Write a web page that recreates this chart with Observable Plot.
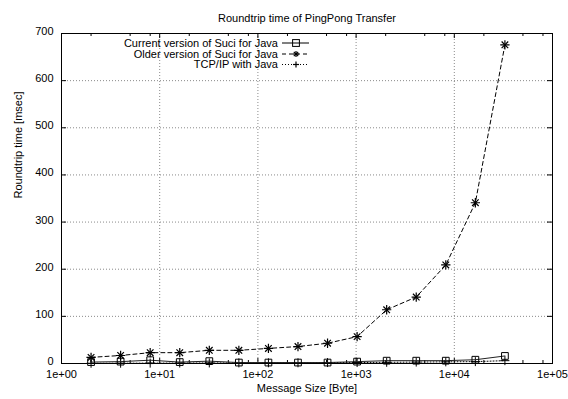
<!DOCTYPE html>
<html>
<head>
<meta charset="utf-8">
<script src="https://cdn.jsdelivr.net/npm/d3@7"></script>
<script src="https://cdn.jsdelivr.net/npm/@observablehq/plot@0.6"></script>
<style>
  html, body { margin: 0; padding: 0; background: white; }
</style>
</head>
<body>
<div id="chart"></div>
<script>
const sizes = [2, 4, 8, 16, 32, 64, 128, 256, 512, 1024, 2048, 4096, 8192, 16384, 32768];
const currentSuci = [3, 4, 7, 3, 5, 2, 2, 2, 2, 4, 6, 6, 6, 8, 16];
const olderSuci = [13, 17, 23, 23, 28, 28, 32, 36, 43, 57, 114, 141, 209, 341, 676];
const tcpIp = [0.5, 0.6, 0.8, 1, 1.2, 1.3, 1.5, 1.5, 2, 2, 2.5, 3, 3.5, 4, 6];

const xTicks = [1, 10, 100, 1000, 10000, 100000];
const xTickLabels = ["1e+00", "1e+01", "1e+02", "1e+03", "1e+04", "1e+05"];
const xMinorTicks = [2, 5, 8, 20, 50, 80, 200, 500, 800, 2000, 5000, 8000, 20000, 50000, 80000];
const yTicks = [0, 100, 200, 300, 400, 500, 600, 700];

const seriesNames = ["Current version of Suci for Java", "Older version of Suci for Java", "TCP/IP with Java"];
const title = "Roundtrip time of PingPong Transfer";
const xLabel = "Message Size [Byte]";
const yLabel = "Roundtrip time [msec]";

const data = sizes.map((s, i) => ({size: s, current: currentSuci[i], older: olderSuci[i], tcp: tcpIp[i]}));

const W = 568, H = 399;
const mL = 61, mR = 16, mT = 33, mB = 36;
const pw = W - mL - mR, ph = H - mT - mB;
const font = "'Liberation Sans', Arial, Helvetica, sans-serif";
const fs = 11;

const svg = Plot.plot({
  width: W,
  height: H,
  marginLeft: mL, marginRight: mR, marginTop: mT, marginBottom: mB,
  style: {fontFamily: font, fontSize: fs + "px", background: "white", color: "black"},
  x: {type: "log", domain: [1, 100000]},
  y: {domain: [0, 700]},
  marks: [
    // grid
    Plot.ruleX(xTicks.slice(1, -1), {stroke: "#8a8a8a", strokeWidth: 1, strokeDasharray: "1,2"}),
    Plot.ruleY(yTicks.slice(1, -1), {stroke: "#8a8a8a", strokeWidth: 1, strokeDasharray: "1,2"}),
    // tick marks, inward, mirrored
    Plot.ruleX(xTicks, {stroke: "black", insetTop: ph - 5}),
    Plot.ruleX(xTicks, {stroke: "black", insetBottom: ph - 5}),
    Plot.ruleX(xMinorTicks, {stroke: "black", insetTop: ph - 3}),
    Plot.ruleX(xMinorTicks, {stroke: "black", insetBottom: ph - 3}),
    Plot.ruleY(yTicks, {stroke: "black", insetRight: pw - 5}),
    Plot.ruleY(yTicks, {stroke: "black", insetLeft: pw - 5}),
    // axes labels
    Plot.axisX({ticks: xTicks, tickSize: 0, tickPadding: 7, tickFormat: d => xTickLabels[xTicks.indexOf(d)], label: null, fontSize: fs}),
    Plot.axisY({ticks: yTicks, tickSize: 0, tickPadding: 8, label: null, fontSize: fs, dy: -2}),
    // series
    Plot.line(data, {x: "size", y: "tcp", stroke: "black", strokeWidth: 1, strokeDasharray: "1,2"}),
    Plot.dot(data, {x: "size", y: "tcp", symbol: "plus", r: 3, stroke: "black", strokeWidth: 1}),
    Plot.line(data, {x: "size", y: "older", stroke: "black", strokeWidth: 1, strokeDasharray: "4,3"}),
    Plot.dot(data, {x: "size", y: "older", symbol: "plus", r: 3.1, stroke: "black", strokeWidth: 1.2}),
    Plot.dot(data, {x: "size", y: "older", symbol: "times", r: 3.1, stroke: "black", strokeWidth: 1.2}),
    Plot.line(data, {x: "size", y: "current", stroke: "#222", strokeWidth: 1}),
    Plot.dot(data, {x: "size", y: "current", symbol: "square", r: 3.8, fill: "none", stroke: "black", strokeWidth: 1}),
    Plot.frame({stroke: "black", strokeWidth: 1}),
    // titles
    Plot.text([title], {frameAnchor: "top", dy: -19, fontSize: fs, fill: "black"}),
    Plot.text([xLabel], {frameAnchor: "bottom", dy: 28, fontSize: fs, fill: "black"}),
    Plot.text([yLabel], {frameAnchor: "left", dx: -43, rotate: -90, fontSize: fs, fill: "black"})
  ]
});

// legend (gnuplot style, top-left inside the frame)
const leg = d3.select(svg).append("g").attr("font-family", font).attr("font-size", fs + "px");
const rowY = [43, 54, 64.5];
const dashes = [null, "4,3", "1,2"];
seriesNames.forEach((name, i) => {
  const g = leg.append("g").attr("transform", `translate(0,${rowY[i]})`);
  g.append("text").attr("x", 278).attr("y", 0).attr("dy", "0.35em").attr("text-anchor", "end").attr("fill", "black").text(name);
  g.append("line").attr("x1", 282).attr("x2", 309).attr("y1", 0).attr("y2", 0)
    .attr("stroke", "black").attr("stroke-dasharray", dashes[i]);
  const cx = 296;
  if (i === 0) {
    g.append("rect").attr("x", cx - 3.4).attr("y", -3.4).attr("width", 6.8).attr("height", 6.8).attr("fill", "none").attr("stroke", "black");
  } else {
    const s = i === 1 ? 3 : 3;
    g.append("line").attr("x1", cx - s).attr("x2", cx + s).attr("y1", 0).attr("y2", 0).attr("stroke", "black").attr("stroke-width", 1.2);
    g.append("line").attr("x1", cx).attr("x2", cx).attr("y1", -s).attr("y2", s).attr("stroke", "black").attr("stroke-width", 1.2);
    if (i === 1) {
      g.append("line").attr("x1", cx - 2.2).attr("x2", cx + 2.2).attr("y1", -2.2).attr("y2", 2.2).attr("stroke", "black").attr("stroke-width", 1.2);
      g.append("line").attr("x1", cx - 2.2).attr("x2", cx + 2.2).attr("y1", 2.2).attr("y2", -2.2).attr("stroke", "black").attr("stroke-width", 1.2);
    }
  }
});

document.getElementById("chart").appendChild(svg);
</script>
</body>
</html>
